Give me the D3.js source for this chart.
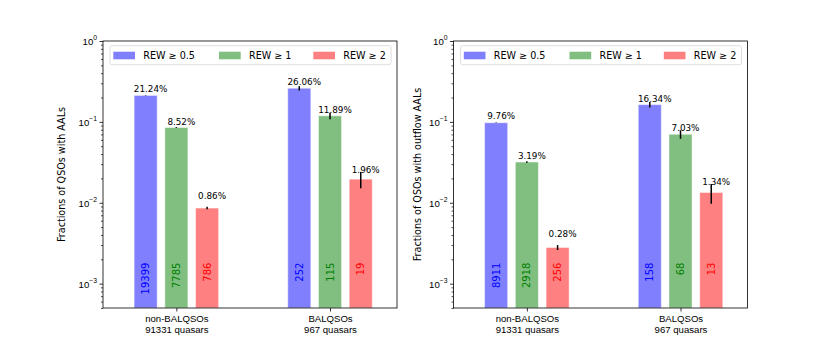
<!DOCTYPE html>
<html>
<head>
<meta charset="utf-8">
<script src="https://cdn.jsdelivr.net/npm/d3@7"></script>
<style>
  body { margin: 0; background: #fff; }
  svg { font-family: "DejaVu Sans", sans-serif; }
</style>
</head>
<body>
<div id="chart"></div>
<script>
// data
const groups = ["non-BALQSOs", "BALQSOs"];
const groupTotals = ["91331 quasars", "967 quasars"];
const thresholds = ["REW \u2265 0.5", "REW \u2265 1", "REW \u2265 2"];

const allFrac = [[0.2124, 0.0852, 0.0086], [0.2606, 0.1189, 0.0196]];
const allCounts = [[19399, 7785, 786], [252, 115, 19]];
const allErr = [[0.0015, 0.0010, 0.0003], [0.0164, 0.0111, 0.0045]];

const outFrac = [[0.0976, 0.0319, 0.0028], [0.1634, 0.0703, 0.0134]];
const outCounts = [[8911, 2918, 256], [158, 68, 13]];
const outErr = [[0.0010, 0.0006, 0.0002], [0.0130, 0.0085, 0.0037]];

const yMajor = [1e-3, 1e-2, 1e-1, 1];
const yExp = ["\u22123", "\u22122", "\u22121", "0"];

const fills = ["#8080ff", "#80bf80", "#ff8080"];
const textColors = ["#0000ff", "#008000", "#ff0000"];

const W = 830, H = 346;
const svg = d3.select("#chart").append("svg")
    .attr("width", W)
    .attr("height", H);

function drawPanel(left, ylabel, labelX, frac, counts, err, gaps) {
    const top = 41, w = 294, h = 267;
    const g = svg.append("g").attr("transform", "translate(" + left + "," + top + ")");

    const x = d3.scaleLinear().domain([-0.4775, 1.436]).range([0, w]);
    const y = d3.scaleLog().domain([5e-4, 1]).range([h, 0]);
    const bw = x(0.15) - x(0);

    // bars
    groups.forEach((grp, gi) => {
        thresholds.forEach((t, k) => {
            const xc = x(gi + (k - 1) * 0.2);
            const v = frac[gi][k];
            g.append("rect")
                .attr("x", xc - bw / 2)
                .attr("y", y(v))
                .attr("width", bw)
                .attr("height", h - y(v))
                .attr("fill", fills[k])
                .attr("stroke", "rgba(255,255,255,0.45)")
                .attr("stroke-width", 1);

            g.append("line")
                .attr("x1", xc).attr("x2", xc)
                .attr("y1", y(v - err[gi][k]))
                .attr("y2", y(v + err[gi][k]))
                .attr("stroke", "#000")
                .attr("stroke-width", 1.5);

            g.append("text")
                .attr("x", xc + 5)
                .attr("y", y(v) - gaps[gi][k])
                .attr("text-anchor", "middle")
                .attr("font-size", "8.8px")
                .attr("fill", "#000")
                .text((v * 100).toFixed(2) + "%");

            g.append("text")
                .attr("transform", "translate(" + (xc + 3.5) + "," + y(0.00182) + ") rotate(-90)")
                .attr("text-anchor", "end")
                .attr("font-size", "10px")
                .attr("fill", textColors[k])
                .text(counts[gi][k]);
        });
    });

    // y axis: minor and major ticks
    const minor = y.ticks().filter(v => !yMajor.some(m => Math.abs(m - v) / m < 1e-6));
    g.append("g")
        .call(d3.axisLeft(y).tickValues(minor).tickSize(2).tickFormat(""))
        .call(a => a.select(".domain").remove())
        .selectAll("line").attr("stroke-width", 0.7);

    const ax = g.append("g")
        .call(d3.axisLeft(y).tickValues(yMajor).tickSize(3.5).tickFormat(""));
    ax.select(".domain").remove();
    ax.selectAll("line").attr("stroke-width", 0.8);
    ax.selectAll(".tick").each(function(d, i) {
        const sup = d3.select(this).append("text")
            .attr("y", -1.5)
            .attr("text-anchor", "start")
            .attr("font-size", "6.8px")
            .attr("fill", "#000")
            .text(yExp[i]);
        const sw = sup.node().getComputedTextLength();
        sup.attr("x", -6 - sw);
        d3.select(this).append("text")
            .attr("x", -6 - sw)
            .attr("dy", "0.35em")
            .attr("text-anchor", "end")
            .attr("fill", "#000")
            .attr("font-size", "9.6px")
            .text("10");
    });

    // x axis ticks and two-line labels
    const xa = g.append("g")
        .attr("transform", "translate(0," + h + ")")
        .call(d3.axisBottom(x).tickValues([0, 1]).tickSize(3.5).tickFormat(""));
    xa.select(".domain").remove();
    xa.selectAll("line").attr("stroke-width", 0.8);
    xa.selectAll(".tick").each(function(d, i) {
        const t = d3.select(this).append("text")
            .attr("text-anchor", "middle")
            .attr("fill", "#000")
            .attr("font-size", "9.6px");
        t.append("tspan").attr("x", 0).attr("y", 14).text(groups[i]);
        t.append("tspan").attr("x", 0).attr("y", 25).text(groupTotals[i]);
    });

    // frame
    g.append("rect")
        .attr("width", w).attr("height", h)
        .attr("fill", "none")
        .attr("stroke", "#000")
        .attr("stroke-width", 0.8);

    // y label
    g.append("text")
        .attr("transform", "translate(" + labelX + "," + (h / 2) + ") rotate(-90)")
        .attr("text-anchor", "middle")
        .attr("font-size", "9.6px")
        .attr("fill", "#000")
        .text(ylabel);

    // legend
    const lg = g.append("g").attr("transform", "translate(7,4.7)");
    lg.append("rect")
        .attr("width", 281).attr("height", 19)
        .attr("rx", 2)
        .attr("fill", "rgba(255,255,255,0.8)")
        .attr("stroke", "#d6d6d6")
        .attr("stroke-width", 0.8);
    const entryX = [3.3, 109, 203.3];
    thresholds.forEach((t, k) => {
        lg.append("rect")
            .attr("x", entryX[k]).attr("y", 6)
            .attr("width", 21.7).attr("height", 7.6)
            .attr("fill", fills[k]);
        lg.append("text")
            .attr("x", entryX[k] + 30)
            .attr("y", 9.8)
            .attr("dy", "0.35em")
            .attr("font-size", "9.6px")
            .attr("fill", "#000")
            .text(t);
    });
}

drawPanel(103, "Fractions of QSOs with AALs", -38, allFrac, allCounts, allErr,
    [[3, 3, 9], [3, 3, 6]]);
drawPanel(453.5, "Fractions of QSOs with outflow AALs", -33, outFrac, outCounts, outErr,
    [[4, 3, 10], [3, 3, 7]]);
</script>
</body>
</html>
